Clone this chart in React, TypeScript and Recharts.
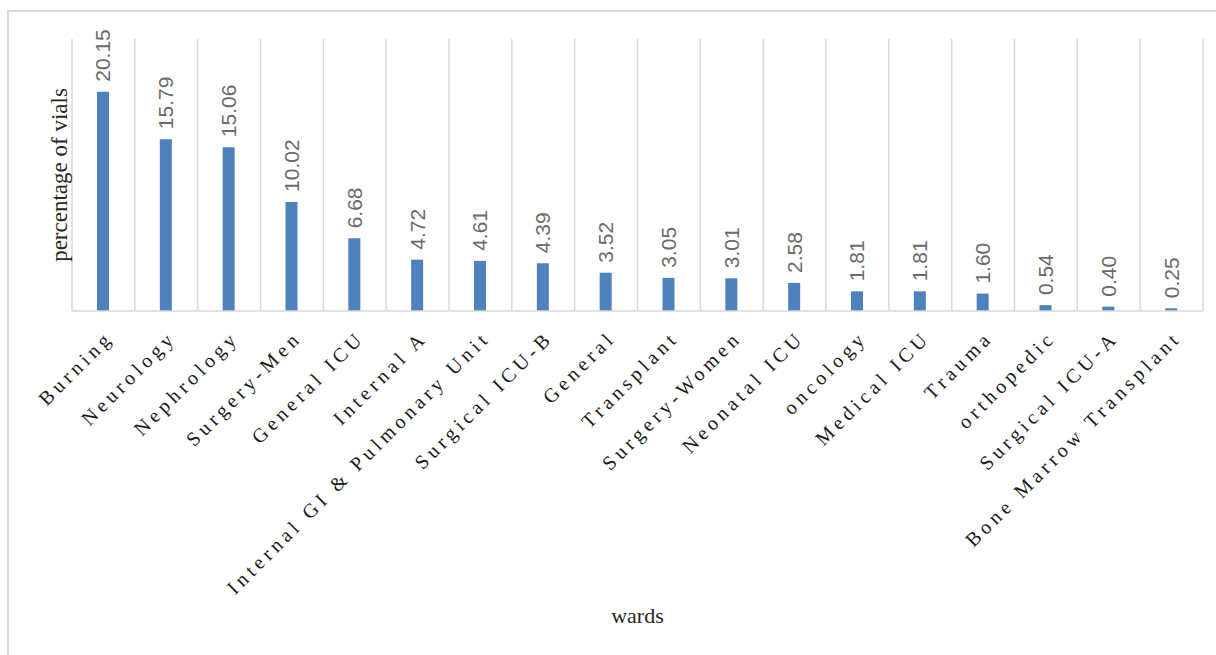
import { BarChart, Bar, XAxis, YAxis, CartesianGrid, LabelList } from 'recharts'

const wards = [
  'Burning',
  'Neurology',
  'Nephrology',
  'Surgery-Men',
  'General ICU',
  'Internal A',
  'Internal GI & Pulmonary Unit',
  'Surgical ICU-B',
  'General',
  'Transplant',
  'Surgery-Women',
  'Neonatal ICU',
  'oncology',
  'Medical ICU',
  'Trauma',
  'orthopedic',
  'Surgical ICU-A',
  'Bone Marrow Transplant',
]

const percentages = [
  20.15, 15.79, 15.06, 10.02, 6.68, 4.72, 4.61, 4.39, 3.52, 3.05, 3.01, 2.58, 1.81, 1.81, 1.6, 0.54,
  0.4, 0.25,
]

const yDomain = [0, 25]

const data = wards.map((ward, i) => ({ ward, value: percentages[i] }))

const serif = "'Times New Roman', 'Liberation Serif', serif"

// Excel-like rotated category names with wide letter spacing
function WardTick(props: any) {
  const { x, y, payload } = props
  return (
    <g transform={`translate(${x + 11},${y + 20})`}>
      <text
        x={0}
        y={0}
        textAnchor="end"
        transform="rotate(-45)"
        fontFamily={serif}
        fontSize={20}
        fill="#1a1a1a"
        style={{ letterSpacing: '4.3px' }}
      >
        {payload.value}
      </text>
    </g>
  )
}

function ValueLabel(props: any) {
  const { x, y, width, value } = props
  const cx = x + width / 2
  const cy = y - 10
  return (
    <text
      x={cx}
      y={cy}
      transform={`rotate(-90, ${cx}, ${cy})`}
      textAnchor="start"
      dominantBaseline="central"
      fontFamily="'Liberation Sans', Arial, sans-serif"
      fontSize={21}
      fill="#6b6b6b"
    >
      {Number(value).toFixed(2)}
    </text>
  )
}

function YTitle(props: any) {
  const { viewBox } = props
  const x = viewBox.x + viewBox.width - 5
  const y = viewBox.y + viewBox.height / 2
  return (
    <text
      x={x}
      y={y}
      transform={`rotate(-90, ${x}, ${y})`}
      textAnchor="middle"
      fontFamily={serif}
      fontSize={23}
      fill="#262626"
    >
      percentage of vials
    </text>
  )
}

function XTitle(props: any) {
  const { viewBox } = props
  const x = viewBox.x + viewBox.width / 2
  const y = viewBox.y + viewBox.height - 8
  return (
    <text x={x} y={y} textAnchor="middle" fontFamily={serif} fontSize={22} fill="#262626">
      wards
    </text>
  )
}

export default function App() {
  return (
    <div style={{ position: 'absolute', left: 0, top: 0, width: 1216, height: 655, background: '#fff' }}>
      <div
        style={{
          position: 'absolute',
          left: 7,
          top: 10,
          width: 1220,
          height: 660,
          borderTop: '2px solid #d9d9d9',
          borderLeft: '2px solid #d9d9d9',
        }}
      />
      <BarChart
        width={1216}
        height={655}
        data={data}
        margin={{ top: 39, right: 13, left: 0, bottom: 24 }}
        style={{ position: 'absolute', left: 0, top: 0 }}
      >
        <CartesianGrid
          horizontal={false}
          stroke="#d9d9d9"
          strokeWidth={1.5}
          verticalCoordinatesGenerator={({ offset }: any) =>
            Array.from({ length: wards.length + 1 }, (_, i) => offset.left + (i * offset.width) / wards.length)
          }
        />
        <XAxis
          dataKey="ward"
          interval={0}
          height={320}
          tickLine={false}
          axisLine={{ stroke: '#d9d9d9', strokeWidth: 1.5 }}
          tick={<WardTick />}
          label={<XTitle />}
        />
        <YAxis
          domain={yDomain}
          width={72}
          tick={false}
          tickLine={false}
          axisLine={false}
          label={<YTitle />}
        />
        <Bar dataKey="value" fill="#4F81BD" barSize={12} isAnimationActive={false}>
          <LabelList dataKey="value" content={<ValueLabel />} />
        </Bar>
      </BarChart>
    </div>
  )
}
